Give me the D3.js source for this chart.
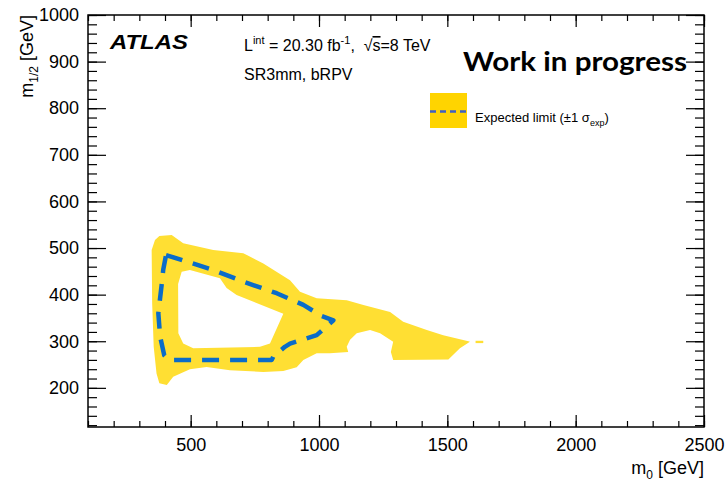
<!DOCTYPE html>
<html>
<head>
<meta charset="utf-8">
<script src="https://cdn.jsdelivr.net/npm/d3@7"></script>
<style>
  body { margin: 0; background: #fff; }
  text { font-family: "Liberation Sans", Arial, sans-serif; fill: #000; }
</style>
</head>
<body>
<div id="chart"></div>
<script>
// expected limit band (+-1 sigma), outer contour [m0, m1/2]
var bandOuter = [
  [378, 526], [426, 528], [471, 510], [588, 496], [705, 489], [783, 467],
  [887, 431], [926, 406], [991, 392], [1108, 388], [1173, 378], [1277, 363],
  [1328, 342], [1420, 324], [1484, 313], [1582, 300], [1588, 299], [1549, 285],
  [1504, 261], [1289, 260], [1280, 277], [1289, 299], [1238, 317], [1199, 324],
  [1147, 317], [1121, 303], [1108, 288], [1114, 277], [1042, 274], [991, 274],
  [939, 260], [913, 244], [861, 236], [783, 234], [653, 238], [562, 245],
  [497, 240], [432, 224], [407, 206], [378, 210], [367, 231], [356, 288],
  [350, 381], [348, 496], [361, 517]
];
// hole inside the band
var bandInner = [
  [465, 449], [497, 453], [614, 435], [640, 414], [679, 399], [861, 359],
  [809, 295], [770, 288], [510, 285], [471, 295], [452, 317], [451, 423]
];
// small detached piece of the band
var bandPiece = [[1610, 301], [1640, 301], [1640, 296], [1610, 296]];
// expected limit contour
var expected = [
  [404, 485], [588, 453], [705, 428], [835, 403], [939, 378], [1010, 354],
  [1056, 345], [991, 313], [887, 295], [867, 288], [822, 267], [816, 260],
  [413, 260], [397, 270], [381, 310], [374, 360], [387, 421], [393, 453], [404, 485]
];
var xMajor = [500, 1000, 1500, 2000, 2500];
var xMinor = d3.range(100, 2501, 100);
var yMajor = [200, 300, 400, 500, 600, 700, 800, 900, 1000];
var yMinor = d3.range(120, 1001, 20);

var svgWidth = 725, svgHeight = 482;
var plotLeft = 88, plotRight = 704, plotTop = 15, plotBottom = 427;
var bandColor = "#ffdf33";

var svg = d3.select("#chart").append("svg")
  .attr("width", svgWidth)
  .attr("height", svgHeight);

var x = d3.scaleLinear().domain([100, 2500]).range([plotLeft, plotRight]);
var y = d3.scaleLinear().domain([116, 1000]).range([plotBottom, plotTop]);

var openLine = d3.line().x(d => x(d[0])).y(d => y(d[1]));
var closedLine = d3.line().x(d => x(d[0])).y(d => y(d[1])).curve(d3.curveLinearClosed);

// band with hole
svg.append("path")
  .attr("d", closedLine(bandOuter) + closedLine(bandInner))
  .attr("fill", bandColor)
  .attr("fill-rule", "evenodd");
svg.append("path")
  .attr("d", closedLine(bandPiece))
  .attr("fill", bandColor);

// expected line
svg.append("path")
  .attr("d", openLine(expected))
  .attr("fill", "none")
  .attr("stroke", "#0a6cc8")
  .attr("stroke-width", 4.5)
  .attr("stroke-linejoin", "round")
  .attr("stroke-dasharray", "17,11");

// axes, ROOT style: ticks inside on all four sides
function styleAxis(g) {
  g.select(".domain").remove();
  g.selectAll("line").attr("stroke", "#000").attr("stroke-width", 1.2);
  g.selectAll("text").style("font-size", "18px").attr("fill", "#000")
    .style("font-family", "'Liberation Sans', Arial, sans-serif");
}
svg.append("g").attr("transform", `translate(0,${plotBottom})`)
  .call(d3.axisBottom(x).tickValues(xMinor).tickSize(-6).tickFormat(""))
  .call(styleAxis);
svg.append("g").attr("transform", `translate(0,${plotBottom})`)
  .call(d3.axisBottom(x).tickValues(xMajor).tickSize(-12).tickPadding(11).tickFormat(d3.format("d")))
  .call(styleAxis);
svg.append("g").attr("transform", `translate(0,${plotTop})`)
  .call(d3.axisTop(x).tickValues(xMinor).tickSize(-6).tickFormat(""))
  .call(styleAxis);
svg.append("g").attr("transform", `translate(0,${plotTop})`)
  .call(d3.axisTop(x).tickValues(xMajor).tickSize(-12).tickFormat(""))
  .call(styleAxis);
svg.append("g").attr("transform", `translate(${plotLeft},0)`)
  .call(d3.axisLeft(y).tickValues(yMinor).tickSize(-9).tickFormat(""))
  .call(styleAxis);
svg.append("g").attr("transform", `translate(${plotLeft},0)`)
  .call(d3.axisLeft(y).tickValues(yMajor).tickSize(-18).tickPadding(9).tickFormat(d3.format("d")))
  .call(styleAxis);
svg.append("g").attr("transform", `translate(${plotRight},0)`)
  .call(d3.axisRight(y).tickValues(yMinor).tickSize(-9).tickFormat(""))
  .call(styleAxis);
svg.append("g").attr("transform", `translate(${plotRight},0)`)
  .call(d3.axisRight(y).tickValues(yMajor).tickSize(-18).tickFormat(""))
  .call(styleAxis);

// frame
svg.append("rect")
  .attr("x", plotLeft).attr("y", plotTop)
  .attr("width", plotRight - plotLeft).attr("height", plotBottom - plotTop)
  .attr("fill", "none").attr("stroke", "#000").attr("stroke-width", 1.5);

// axis titles
var xt = svg.append("text")
  .attr("x", plotRight).attr("y", 474)
  .attr("text-anchor", "end")
  .style("font-size", "18px");
xt.append("tspan").text("m");
xt.append("tspan").attr("dy", 5).style("font-size", "12px").text("0");
xt.append("tspan").attr("dy", -5).text(" [GeV]");

var yt = svg.append("text")
  .attr("transform", `translate(33,${plotTop}) rotate(-90)`)
  .attr("text-anchor", "end")
  .style("font-size", "18px");
yt.append("tspan").text("m");
yt.append("tspan").attr("dy", 5).style("font-size", "12px").text("1/2");
yt.append("tspan").attr("dy", -5).text(" [GeV]");

// labels
svg.append("text")
  .attr("x", 110).attr("y", 49)
  .attr("textLength", 78).attr("lengthAdjust", "spacingAndGlyphs")
  .style("font-size", "20px").style("font-weight", "bold").style("font-style", "italic")
  .text("ATLAS");

var lum = svg.append("text").attr("x", 244).attr("y", 51).style("font-size", "16px");
lum.append("tspan").text("L");
lum.append("tspan").attr("dy", -7).style("font-size", "11px").text("int");
lum.append("tspan").attr("dy", 7).text(" = 20.30 fb");
lum.append("tspan").attr("dy", -7).style("font-size", "11px").text("-1");
lum.append("tspan").attr("dy", 7).text(",\u00A0\u00A0\u221A");
lum.append("tspan").style("text-decoration", "overline").text("s");
lum.append("tspan").text("=8 TeV");

svg.append("text").attr("x", 244).attr("y", 80)
  .style("font-size", "16px")
  .text("SR3mm, bRPV");

svg.append("text")
  .attr("x", 463).attr("y", 71)
  .attr("textLength", 224).attr("lengthAdjust", "spacingAndGlyphs")
  .style("font-family", "Lato, 'Open Sans', sans-serif")
  .style("font-size", "26px").style("font-weight", "bold")
  .text("Work in progress");

// legend
svg.append("rect")
  .attr("x", 430).attr("y", 93).attr("width", 37).attr("height", 35)
  .attr("fill", "#ffd400");
svg.append("line")
  .attr("x1", 430).attr("x2", 467).attr("y1", 111.5).attr("y2", 111.5)
  .attr("stroke", "#3d5fc4").attr("stroke-width", 2.5)
  .attr("stroke-dasharray", "6,4");
var lg = svg.append("text").attr("x", 475).attr("y", 122).style("font-size", "13px");
lg.append("tspan").text("Expected limit (\u00B11 \u03C3");
lg.append("tspan").attr("dy", 4).style("font-size", "9px").text("exp");
lg.append("tspan").attr("dy", -4).text(")");
</script>
</body>
</html>
